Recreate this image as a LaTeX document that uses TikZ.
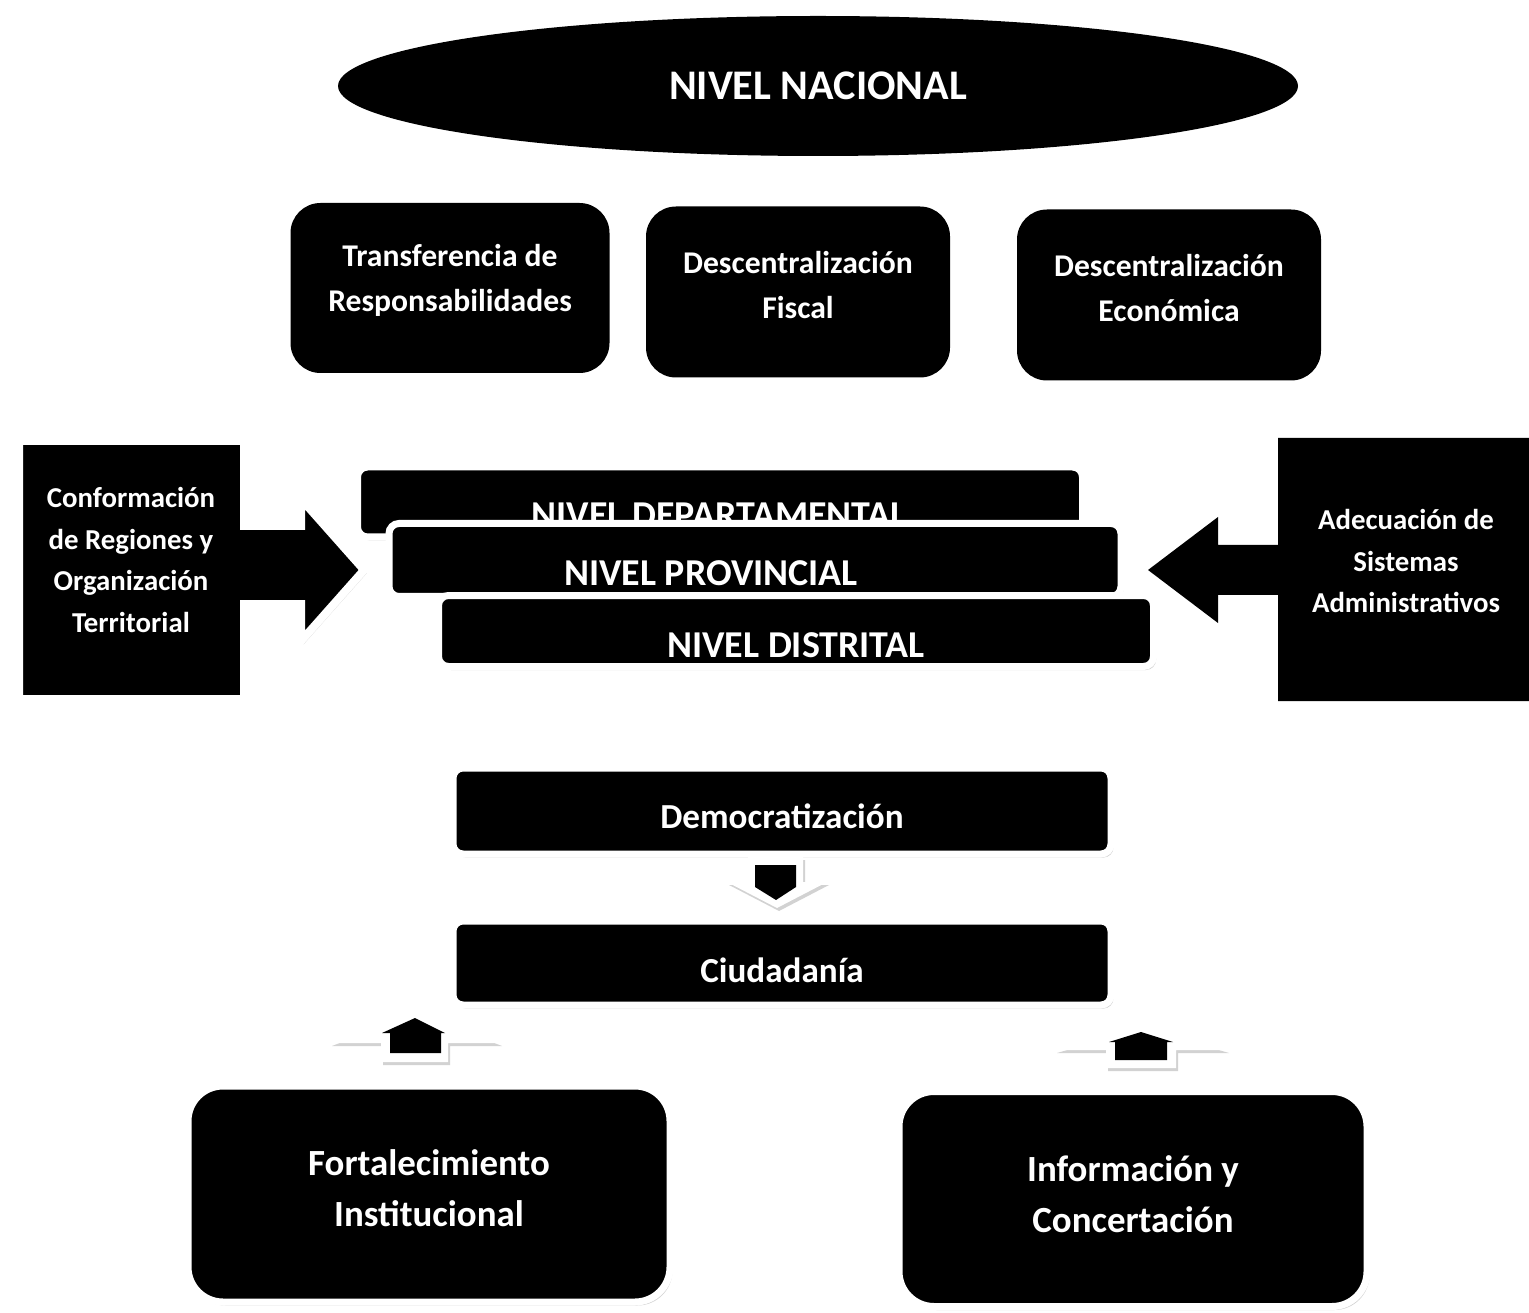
\documentclass[tikz,border=0pt]{standalone}
\usepackage{fontspec}
\setmainfont{Carlito}
\usetikzlibrary{shapes.geometric,shadows}

\begin{document}
\begin{tikzpicture}[x=0.1mm,y=-0.1mm]
			\tikzstyle{boxs} = [fill=black, text=white, align=center, rounded corners=3mm,
				font=\bfseries\fontsize{9}{12.8}\selectfont]
			\tikzstyle{boxsW} = [boxs, draw=white, line width=0.7mm,
				drop shadow={shadow xshift=0.25mm, shadow yshift=-0.35mm, opacity=0.35}]
			\tikzstyle{lvl} = [boxsW, rounded corners=1mm, font=\bfseries\fontsize{10}{12}\selectfont]
			\tikzstyle{lvltxt} = [text=white, font=\bfseries\fontsize{10.8}{12}\selectfont]
			\tikzstyle{sidetxt} = [text=white, align=center, font=\bfseries\fontsize{8.2}{11.8}\selectfont]
			\tikzstyle{arrW} = [fill=white, drop shadow={shadow xshift=0.2mm, shadow yshift=-0.3mm, opacity=0.35}]
			\tikzstyle{arrB} = [fill=black]

			\path[fill=white, use as bounding box] (0,0) rectangle (1529,1313);

			\node(nacional)[ellipse, fill=black, text=white, minimum width=96mm, minimum height=14mm,
				font=\bfseries\fontsize{12}{14}\selectfont] at (818,86) {NIVEL NACIONAL};

			\node(transf)[boxs, minimum width=31.9mm, minimum height=17mm] at (450,288) {Transferencia de\\Responsabilidades\rule[-2mm]{0pt}{0pt}};
			\node(fiscal)[boxs, minimum width=30.4mm, minimum height=17.1mm] at (798,292) {Descentralización\\Fiscal\rule[-1.4mm]{0pt}{0pt}};
			\node(econ)[boxs, minimum width=30.4mm, minimum height=17.1mm] at (1169,295) {Descentralización\\Económica\rule[-1.4mm]{0pt}{0pt}};

			\draw[fill=black, draw=white, line width=0.8mm,
				drop shadow={shadow xshift=0.25mm, shadow yshift=-0.35mm, opacity=0.35}]
				(19,441) -- (244,441) -- (244,526) -- (301,526) -- (301,499) -- (364,570) -- (301,641)
				-- (301,604) -- (244,604) -- (244,699) -- (19,699) -- cycle;
			\node(conf)[sidetxt] at (131,560) {Conformación\\de Regiones y\\Organización\\Territorial};

			\fill[black] (1529,438) -- (1278,438) -- (1278,545) -- (1218,545) -- (1218,517) -- (1148,570)
				-- (1218,623) -- (1218,595) -- (1278,595) -- (1278,701) -- (1529,701) -- cycle;
			\node(adec)[sidetxt] at (1406,561) {Adecuación de\\Sistemas\\Administrativos};

			\node(dept)[lvl, minimum width=72.5mm, minimum height=7mm] at (720,502) {};
			\node(deptT)[lvltxt] at (719,515) {NIVEL DEPARTAMENTAL};
			\node(prov)[lvl, minimum width=73.2mm, minimum height=7.3mm] at (755,560) {};
			\node(provT)[lvltxt] at (711,573) {NIVEL PROVINCIAL};
			\node(dist)[lvl, minimum width=71.5mm, minimum height=7.1mm] at (796,631) {};
			\node(distT)[lvltxt] at (796,645) {NIVEL DISTRITAL};

			\node(demo)[lvl, minimum width=65.8mm, minimum height=8.6mm] at (782,811) {\rule{0pt}{3.6mm}Democratización};
			\node(ciud)[lvl, minimum width=65.8mm, minimum height=8.4mm] at (782,963) {\rule{0pt}{4mm}Ciudadanía};

			\node(fort)[boxsW, rounded corners=3.5mm, minimum width=48.2mm, minimum height=21.6mm,
				font=\bfseries\fontsize{10.5}{14.7}\selectfont] at (429,1194) {Fortalecimiento\\Institucional\rule[-1.2mm]{0pt}{0pt}};
			\node(info)[boxsW, rounded corners=3.5mm, minimum width=46.8mm, minimum height=21.5mm,
				font=\bfseries\fontsize{10.5}{14.7}\selectfont] at (1133,1199) {Información y\\Concertación\rule[-1mm]{0pt}{0pt}};

			\fill[arrW] (748,857) -- (803,857) -- (803,882) -- (827,882) -- (777,908) -- (727,882) -- (748,882) -- cycle;
			\fill[arrB] (755,865) -- (796,865) -- (796,887) -- (776,900) -- (755,887) -- cycle;

			\fill[arrW] (415,1010) -- (500,1043) -- (448,1043) -- (448,1062) -- (381,1062) -- (381,1043) -- (330,1043) -- cycle;
			\fill[arrB] (415,1018) -- (445,1033) -- (441,1033) -- (441,1053) -- (390,1053) -- (390,1033) -- (382,1033) -- cycle;

			\fill[arrW] (1141,1025) -- (1227,1050) -- (1176,1050) -- (1176,1068) -- (1106,1068) -- (1106,1050) -- (1055,1050) -- cycle;
			\fill[arrB] (1141,1032) -- (1173,1042) -- (1167,1042) -- (1167,1060) -- (1115,1060) -- (1115,1042) -- (1109,1042) -- cycle;

		\end{tikzpicture}
\end{document}
